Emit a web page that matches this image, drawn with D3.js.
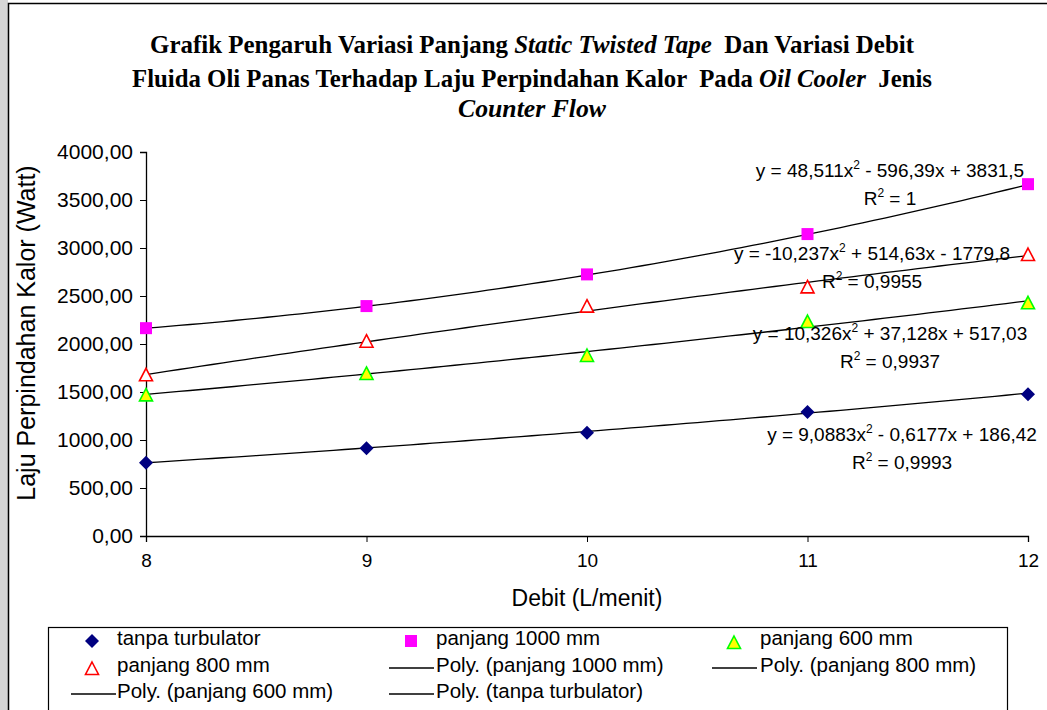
<!DOCTYPE html>
<html>
<head>
<meta charset="utf-8">
<script src="https://cdn.jsdelivr.net/npm/d3@7"></script>
<style>
  html, body { margin: 0; padding: 0; background: #fff; }
  svg { display: block; }
  text { font-family: "Liberation Sans", Arial, sans-serif; fill: #000; }
  .title { font-family: "Liberation Serif", "Times New Roman", serif; font-weight: bold; font-size: 25px; }
</style>
</head>
<body>
<svg id="chart" width="1047" height="710"></svg>
<script>
// Flow rate (L/menit)
const debit = [8, 9, 10, 11, 12];
const xTicks = [8, 9, 10, 11, 12];
const yTicks = [0, 500, 1000, 1500, 2000, 2500, 3000, 3500, 4000];

// Heat transfer rate (Watt) per tape configuration
const tanpaTurbulator = [764, 913, 1076, 1292, 1476];
const panjang1000 = [2165, 2395, 2725, 3145, 3665];
const panjang800 = [1674, 2024, 2389, 2590, 2927];
const panjang600 = [1465, 1688, 1875, 2229, 2424];

// Second-order polynomial trendlines: [a, b, c] for a·x² + b·x + c
const coef1000 = [48.511, -596.39, 3831.5];
const coef800 = [-10.237, 514.63, -1779.8];
const coef600 = [10.326, 37.128, 517.03];
const coefTanpa = [9.0883, -0.6177, 186.42];
const r2Labels = ["1", "0,9955", "0,9937", "0,9993"];

const svg = d3.select("#chart");

// page frame
svg.append("rect").attr("x", 0).attr("y", 0).attr("width", 8).attr("height", 710).attr("fill", "#d6d6d6");
svg.append("rect").attr("x", 8.5).attr("y", 3.5).attr("width", 1100).attr("height", 800)
  .attr("fill", "#fff").attr("stroke", "#000").attr("stroke-width", 1.5);

// title
const titleLines = [
  [["Grafik Pengaruh Variasi Panjang ", false], ["Static Twisted Tape", true], ["  Dan Variasi Debit", false]],
  [["Fluida Oli Panas Terhadap Laju Perpindahan Kalor  Pada ", false], ["Oil Cooler", true], ["  Jenis", false]],
  [["Counter Flow", true]]
];
const titleY = [53, 87, 117];
const titleWidth = [764, 800, 148];
titleLines.forEach((parts, i) => {
  const t = svg.append("text").attr("class", "title").attr("x", 532).attr("y", titleY[i])
    .attr("text-anchor", "middle").attr("xml:space", "preserve")
    .attr("textLength", titleWidth[i]).attr("lengthAdjust", "spacingAndGlyphs");
  parts.forEach(([s, it]) => t.append("tspan").text(s).attr("font-style", it ? "italic" : "normal"));
});

const x = d3.scaleLinear().domain([8, 12]).range([146, 1028]);
const y = d3.scaleLinear().domain([0, 4000]).range([536, 152]);
const fmt = v => v.toFixed(2).replace(".", ",");

// axes
const yAxis = svg.append("g").attr("transform", `translate(${x(8)},0)`)
  .call(d3.axisLeft(y).tickValues(yTicks).tickSize(6).tickPadding(7).tickFormat(fmt));
const xAxis = svg.append("g").attr("transform", `translate(0,${y(0)})`)
  .call(d3.axisBottom(x).tickValues(xTicks).tickSize(6).tickPadding(12).tickFormat(d3.format("d")));
[xAxis, yAxis].forEach(g => {
  g.select(".domain").attr("stroke", "#000").attr("stroke-width", 1.3);
  g.selectAll(".tick line").attr("stroke", "#000");
  g.selectAll("text").style("font-family", "'Liberation Sans', Arial, sans-serif").attr("fill", "#000");
});
yAxis.selectAll("text").style("font-size", "21px");
xAxis.selectAll("text").style("font-size", "19px");

svg.append("text").attr("x", 587).attr("y", 606).attr("text-anchor", "middle")
  .style("font-size", "23px").text("Debit (L/menit)");
svg.append("text").attr("transform", "translate(35,333) rotate(-90)").attr("text-anchor", "middle")
  .style("font-size", "25px").text("Laju Perpindahan Kalor (Watt)");

// trendlines
const poly = c => v => c[0] * v * v + c[1] * v + c[2];
const xs = d3.range(8, 12.0001, 0.05);
const line = d3.line().x(d => x(d[0])).y(d => y(d[1]));
[coef1000, coef800, coef600, coefTanpa].forEach(c => {
  const f = poly(c);
  svg.append("path").attr("d", line(xs.map(v => [v, f(v)])))
    .attr("fill", "none").attr("stroke", "#000").attr("stroke-width", 1.3);
});

// marker shapes
const diamond = (g, cx, cy) => g.append("path")
  .attr("d", `M${cx},${cy - 7}L${cx + 7},${cy}L${cx},${cy + 7}L${cx - 7},${cy}Z`).attr("fill", "#000080");
const square = (g, cx, cy) => g.append("rect").attr("x", cx - 6).attr("y", cy - 6)
  .attr("width", 12).attr("height", 12).attr("fill", "#ff00ff");
const triangle = (g, cx, cy, fill, stroke) => g.append("path")
  .attr("d", `M${cx},${cy - 7}L${cx + 6.5},${cy + 5.5}L${cx - 6.5},${cy + 5.5}Z`)
  .attr("fill", fill).attr("stroke", stroke).attr("stroke-width", 1.6);

const marks = svg.append("g");
debit.forEach((d, i) => {
  diamond(marks, x(d), y(tanpaTurbulator[i]));
  square(marks, x(d), y(panjang1000[i]));
  triangle(marks, x(d), y(panjang800[i]), "#fff", "#ff0000");
  triangle(marks, x(d), y(panjang600[i]), "#ffff00", "#00ff00");
});

// trendline equations
const num = v => String(Math.abs(v)).replace(".", ",");
const sign = v => (v < 0 ? " - " : " + ");
function equation(cx, cy, c, r2) {
  const t = svg.append("text").attr("x", cx).attr("y", cy).attr("text-anchor", "middle")
    .style("font-size", "19px").attr("xml:space", "preserve");
  t.append("tspan").text("y = " + (c[0] < 0 ? "-" : "") + num(c[0]) + "x");
  t.append("tspan").attr("dy", -8).style("font-size", "12px").text("2");
  t.append("tspan").attr("dy", 8).text(sign(c[1]) + num(c[1]) + "x" + sign(c[2]) + num(c[2]));
  const r = svg.append("text").attr("x", cx).attr("y", cy + 28).attr("text-anchor", "middle")
    .style("font-size", "19px").attr("xml:space", "preserve");
  r.append("tspan").text("R");
  r.append("tspan").attr("dy", -8).style("font-size", "12px").text("2");
  r.append("tspan").attr("dy", 8).text(" = " + r2);
}
equation(890, 177, coef1000, r2Labels[0]);
equation(872, 260, coef800, r2Labels[1]);
equation(890, 340, coef600, r2Labels[2]);
equation(902, 441, coefTanpa, r2Labels[3]);

// legend
svg.append("rect").attr("x", 48.5).attr("y", 627.5).attr("width", 959).attr("height", 100)
  .attr("fill", "#fff").attr("stroke", "#000").attr("stroke-width", 1.2);
const lg = svg.append("g");
const legendText = (tx, ty, s) => lg.append("text").attr("x", tx).attr("y", ty).style("font-size", "20.5px").text(s);
const legendLine = (x0, ty) => lg.append("line").attr("x1", x0).attr("x2", x0 + 45)
  .attr("y1", ty).attr("y2", ty).attr("stroke", "#000").attr("stroke-width", 1.3);
diamond(lg, 92, 641); legendText(117, 645, "tanpa turbulator");
square(lg, 411, 641); legendText(436, 645, "panjang 1000 mm");
triangle(lg, 734, 643, "#ffff00", "#00ff00"); legendText(760, 645, "panjang 600 mm");
triangle(lg, 92, 669, "#fff", "#ff0000"); legendText(117, 672, "panjang 800 mm");
legendLine(389, 668); legendText(436, 672, "Poly. (panjang 1000 mm)");
legendLine(712, 668); legendText(760, 672, "Poly. (panjang 800 mm)");
legendLine(71, 694); legendText(117, 698, "Poly. (panjang 600 mm)");
legendLine(389, 694); legendText(436, 698, "Poly. (tanpa turbulator)");
</script>
</body>
</html>
